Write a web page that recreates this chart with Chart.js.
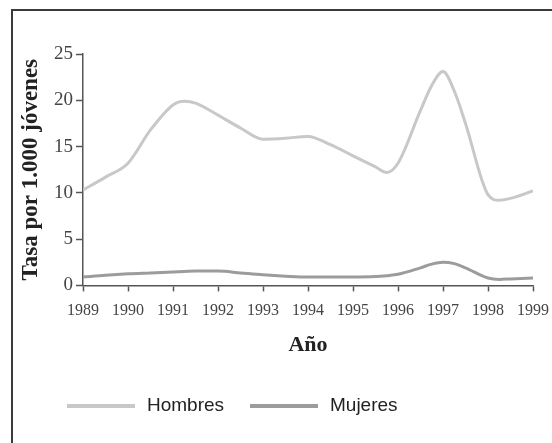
<!DOCTYPE html>
<html>
<head>
<meta charset="utf-8">
<script src="https://cdn.jsdelivr.net/npm/chart.js@4/dist/chart.umd.min.js"></script>
<style>
    html, body { margin: 0; padding: 0; background: #fff; overflow: hidden; }
    #wrap { position: relative; width: 552px; height: 443px; }
    #frame { position: absolute; left: 11px; top: 9px; right: -10px; bottom: -10px; border: 2px solid #3a3a3a; }
    canvas { position: absolute; left: 0; top: 0; }
</style>
</head>
<body>
<div id="wrap">
    <div id="frame"></div>
    <canvas id="lineChart" width="552" height="443"></canvas>
</div>
<script>
const years = [1989, 1989.5, 1990, 1990.5, 1991, 1991.25, 1991.5, 1992, 1992.5, 1993, 1993.5, 1994, 1994.5,
    1995, 1995.5, 1995.75, 1996, 1996.5, 1996.75, 1997, 1997.25, 1997.5, 1998, 1998.25, 1998.5, 1999];
const hombres = [10.3, 11.7, 13.2, 16.8, 19.5, 19.9, 19.7, 18.4, 17.0, 15.8, 15.9, 16.1, 15.2,
    14.0, 12.8, 12.2, 13.2, 18.9, 21.6, 23.1, 21.0, 17.5, 9.8, 9.2, 9.4, 10.2];
const mujeres = [0.9, 1.1, 1.25, 1.35, 1.45, 1.5, 1.55, 1.55, 1.35, 1.15, 1.0, 0.9, 0.9,
    0.9, 0.95, 1.05, 1.2, 1.9, 2.3, 2.5, 2.35, 1.9, 0.8, 0.65, 0.7, 0.8];
const seriesLabels = ['Hombres', 'Mujeres'];
const seriesColors = ['#c8c8c8', '#9c9c9c'];

const axisColor = '#555';

// legend drawn by hand so it can sit left of centre like the original
const bottomLegend = {
    id: 'bottom_legend',
    afterDraw: (chart) => {
        let {ctx} = chart;
        ctx.save();
        let starts = [67, 250];
        let y = 406;
        chart.data.datasets.forEach((ds, i) => {
            let x = starts[i];
            ctx.beginPath();
            ctx.strokeStyle = ds.borderColor;
            ctx.lineWidth = 4;
            ctx.moveTo(x, y);
            ctx.lineTo(x + 68, y);
            ctx.stroke();
            ctx.fillStyle = '#222';
            ctx.font = '19px "Liberation Sans", Arial, sans-serif';
            ctx.textBaseline = 'middle';
            ctx.fillText(ds.label, x + 80, y);
        });
        ctx.restore();
    }
};

const ctx = document.getElementById('lineChart').getContext('2d');

new Chart(ctx, {
    type: 'line',
    data: {
        datasets: [
            {
                label: seriesLabels[0],
                data: years.map((x, i) => ({x: x, y: hombres[i]})),
                borderColor: seriesColors[0],
                backgroundColor: seriesColors[0],
                borderWidth: 3,
                pointRadius: 0,
                cubicInterpolationMode: 'monotone'
            },
            {
                label: seriesLabels[1],
                data: years.map((x, i) => ({x: x, y: mujeres[i]})),
                borderColor: seriesColors[1],
                backgroundColor: seriesColors[1],
                borderWidth: 3,
                pointRadius: 0,
                cubicInterpolationMode: 'monotone'
            }
        ]
    },
    options: {
        responsive: false,
        animation: false,
        layout: {
            padding: {left: 20, top: 54, right: 19, bottom: 84}
        },
        plugins: {
            legend: {display: false},
            tooltip: {enabled: false}
        },
        scales: {
            x: {
                type: 'linear',
                min: 1989,
                max: 1999,
                // let the last year label run off the edge, as in the original
                afterFit: (scale) => { scale.paddingRight = 0; },
                grid: {
                    drawOnChartArea: false,
                    drawTicks: true,
                    tickLength: 6,
                    tickColor: axisColor,
                    tickWidth: 1.5
                },
                border: {display: true, color: axisColor, width: 1.5},
                ticks: {
                    stepSize: 1,
                    maxRotation: 0,
                    autoSkip: false,
                    padding: 10,
                    color: '#444',
                    font: {family: '"Liberation Serif", "Times New Roman", serif', size: 16},
                    callback: (v) => String(v)
                },
                title: {
                    display: true,
                    text: 'Año',
                    color: '#222',
                    padding: {top: 2, bottom: 0},
                    font: {family: '"Liberation Serif", "Times New Roman", serif', size: 22, weight: 'bold'}
                }
            },
            y: {
                min: 0,
                max: 25,
                grid: {
                    drawOnChartArea: false,
                    drawTicks: true,
                    tickLength: 7,
                    tickColor: axisColor,
                    tickWidth: 1.5
                },
                border: {display: true, color: axisColor, width: 1.5},
                ticks: {
                    stepSize: 5,
                    padding: 3,
                    color: '#444',
                    font: {family: '"Liberation Serif", "Times New Roman", serif', size: 19}
                },
                title: {
                    display: true,
                    text: 'Tasa por 1.000 jóvenes',
                    color: '#222',
                    padding: {top: 0, bottom: 8},
                    font: {family: '"Liberation Serif", "Times New Roman", serif', size: 23, weight: 'bold', lineHeight: 1}
                }
            }
        }
    },
    plugins: [bottomLegend]
});
</script>
</body>
</html>
